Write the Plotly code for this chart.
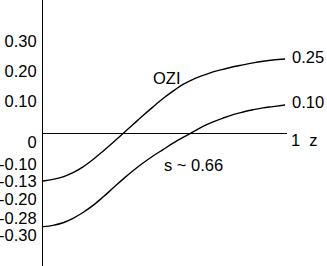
import plotly.graph_objects as go

# horizontal positions z (0..1) and curve values
z_pts = [0.000, 0.041, 0.082, 0.123, 0.164, 0.205, 0.246, 0.287, 0.328, 0.369, 0.410, 0.451, 0.492,
         0.533, 0.574, 0.615, 0.656, 0.697, 0.738, 0.779, 0.820, 0.861, 0.902, 0.943, 0.992]

v_upper = [-0.130, -0.125, -0.117, -0.104, -0.086, -0.063, -0.037, -0.010, 0.018, 0.046, 0.074, 0.101, 0.127,
           0.150, 0.171, 0.187, 0.199, 0.210, 0.218, 0.226, 0.232, 0.238, 0.243, 0.247, 0.250]

v_lower = [-0.272, -0.268, -0.260, -0.246, -0.228, -0.206, -0.180, -0.152, -0.124, -0.098, -0.074, -0.052, -0.032,
           -0.012, 0.006, 0.023, 0.040, 0.054, 0.066, 0.077, 0.085, 0.092, 0.098, 0.102, 0.107]

# left tick labels and where they are drawn
tick_labels = ["0.30", "0.20", "0.10", "0", "-0.10", "-0.13", "-0.20", "-0.28", "-0.30"]
tick_positions = [0.306, 0.213, 0.119, -0.008, -0.077, -0.131, -0.186, -0.245, -0.298]

end_labels = ["0.25", "0.10"]
axis_end_label = "1\u00a0\u00a0z"
curve_labels = ["OZI", "s ~ 0.66"]

FONT = "Liberation Sans, Arial, sans-serif"
FS = 16.5

fig = go.Figure()
for v in (v_upper, v_lower):
    fig.add_trace(go.Scatter(x=z_pts, y=v, mode="lines",
                             line=dict(color="black", width=1.4, shape="spline", smoothing=1.0),
                             showlegend=False, hoverinfo="skip"))

# horizontal z axis line (crisp on one pixel row)
fig.add_shape(type="line", xref="x", yref="paper", x0=0, x1=1, y0=0.4981, y1=0.4981,
              line=dict(color="black", width=1))

ann_font = dict(family=FONT, size=FS, color="black")
fig.add_annotation(x=1.012, y=v_upper[-1], text=end_labels[0], xanchor="left", yanchor="middle",
                   showarrow=False, font=ann_font, yshift=2)
fig.add_annotation(x=1.012, y=v_lower[-1], text=end_labels[1], xanchor="left", yanchor="middle",
                   showarrow=False, font=ann_font, yshift=3)
fig.add_annotation(x=1.008, y=0.474, yref="paper", text=axis_end_label, xanchor="left", yanchor="middle",
                   showarrow=False, font=ann_font)
fig.add_annotation(x=0.508, y=0.191, text=curve_labels[0], xanchor="center", yanchor="middle",
                   showarrow=False, font=ann_font)
fig.add_annotation(x=0.615, y=-0.080, text=curve_labels[1], xanchor="center", yanchor="middle",
                   showarrow=False, font=ann_font)

fig.update_layout(
    width=327, height=266,
    margin=dict(l=43, r=0, t=0, b=0, pad=0),
    paper_bgcolor="white", plot_bgcolor="white",
    xaxis=dict(range=[0, 1.164], showgrid=False, zeroline=False, showticklabels=False, showline=False, ticks=""),
    yaxis=dict(range=[-0.3947, 0.434], showgrid=False, zeroline=False, showline=True, linecolor="black", linewidth=1,
               ticks="", tickmode="array", tickvals=tick_positions, ticktext=tick_labels,
               ticklabelstandoff=2,
               tickfont=dict(family=FONT, size=FS, color="black")),
    font=dict(family=FONT, size=FS, color="black"),
)

fig.write_html("out.html", config={"displayModeBar": False},
               post_script="document.body.style.margin='0';document.body.style.padding='0';")
